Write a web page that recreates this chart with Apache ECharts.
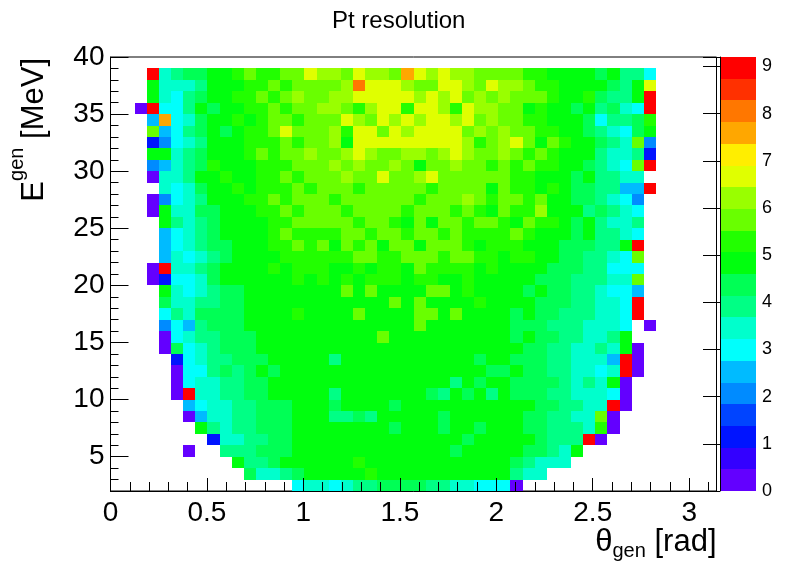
<!DOCTYPE html>
<html lang="en">
<head>
<meta charset="UTF-8">
<title>Pt resolution</title>
<style>html,body{margin:0;padding:0;background:#fff;}</style>
</head>
<body>
<div id="container" style="width:796px;height:572px;"></div>
<script src="https://cdn.jsdelivr.net/npm/echarts@6/dist/echarts.min.js"></script>
<script>
// TH2 binning: 50 bins in theta over [0, pi], 38 bins of 1 MeV over [2, 40]
var nBinsX = 50;
var thetaMax = Math.PI;
var eMin = 2, eMax = 40;
var zMax = 9.2;
var nContours = 20;

// one string per E bin, top first (38-39 down to 2-3), one char per theta bin
// '.' = empty, '0'-'9','a'-'j' = colour band 0..19
var rows = [
    '...j7899aa' + 'bcbbcceddc' + 'eddcgededd' + 'ccccbbaaaa' + '9a886.....',
    '...a7778aa' + 'abbcbccccd' + 'heeedcceed' + 'ceddcbbaaa' + 'a98ae.....',
    '...a7689aa' + 'bbcbcdccdd' + 'eeeeededec' + 'dcdcccbaab' + '988aj.....',
    '..0j668a9a' + 'abbcbccddc' + 'bdeebeedbe' + 'ddccabaa9a' + '8976j.....',
    '...5g679aa' + 'babccbccce' + 'dcededeede' + 'cdccbbaaa9' + '6889b.....',
    '...c5689a9' + 'abbcecccdb' + 'eecedeeeec' + 'dcdccbbaa9' + '8769a.....',
    '...24678aa' + 'abbbcbccda' + 'eeeeeeeeed' + 'bcdecacbaa' + '987c4.....',
    '...aa789aa' + 'abcbccdccd' + 'edccddcded' + 'ccdcbcbaaa' + '87782.....',
    '...45789ba' + 'aabbbcccdc' + 'dccdcaccdc' + 'cbcbcbbaa9' + '876cj.....',
    '...0778aab' + 'aabbcbcccd' + 'cceccdeccc' + 'cccbbaaa9a' + '8877......',
    '....7679aa' + 'babbbcbccc' + 'bcccccbccc' + 'cacbbaba99' + '8855j.....',
    '...04678aa' + 'abbcbcccbc' + 'cccccbcccd' + 'cbccbcaa99' + '8764......',
    '...0a7799a' + 'aabbcbcccb' + 'ccccbcccbc' + 'bacbbdaaa8' + '9876......',
    '....a8789a' + 'aaabbccccc' + 'bccbacaccb' + 'ccbacbba9a' + '8778......',
    '....56789a' + 'aaabcbbbbc' + 'cbccbccbcb' + 'bbbcbaaa9a' + '8876......',
    '....567899' + 'aaabbcbcac' + 'bcaccacccb' + 'abbbaaa999' + '88aj......',
    '....576789' + 'aaaabbbbbb' + 'ccbbcccbcc' + 'bbabbaa998' + '876c......',
    '...0j7789a' + 'aaababbbaa' + 'babbacbbbb' + 'abaaaa9998' + '8666......',
    '...026679a' + 'aaaaababab' + 'abbbabbaab' + 'aaaaa99988' + '877c......',
    '....a76789' + '9aaaaaaaac' + 'acaaaaccab' + 'aaaa9a9988' + '7665......',
    '....977889' + '9aaaaaaaaa' + 'aaacacaaaa' + 'baaaa99988' + '776j......',
    '....687999' + '9aaaabaaaa' + 'caaaaccaca' + 'aaa9a99888' + '776j......',
    '....465899' + '9aaaaaaaaa' + 'aaaaacaaaa' + 'aaa9998887' + '776.0.....',
    '....067889' + '99aaaaaaaa' + 'aacaaaaaaa' + 'aaa9a99887' + '78a.......',
    '....096789' + '99aaaaaaaa' + 'aaaaaaaaaa' + 'aaaa998877' + '87a0......',
    '.....26788' + '999aaaaa8a' + 'aaaaaaaaaa' + '9aa9998877' + '75j0......',
    '.....06689' + '89a9aaaaaa' + 'aaaaaaaaaa' + 'a99a998877' + '67j0......',
    '.....06778' + '899aaaaaaa' + 'aaaaaaaa8a' + '9aa9999878' + '7a0.......',
    '.....0j778' + '899aaaaa8a' + 'aaaaaa98a9' + 'a8a9998877' + '760.......',
    '......5677' + '88999aaa9a' + 'aaa9aaaaaa' + 'aaaaa99887' + '7j0.......',
    '......0577' + '88999aaa88' + '98aaaaa9aa' + 'aaaa998877' + 'c0........',
    '.......a87' + '88999aaaaa' + 'aaa9aaa9aa' + '9aaa998887' + 'b0........',
    '........27' + '78899aaaaa' + 'aaaaaaaaa9' + 'aaaaa9888j' + '0.........',
    '......0..8' + '88999aaaaa' + 'aaaaaaaa9a' + 'aaaa9987a.' + '..........',
    '..........' + 'a889aaaaaa' + 'baaaaaaaaa' + 'aaa98777..' + '..........',
    '..........' + '.97789aaaa' + 'abaaaaaaaa' + 'aaa877....' + '..........',
    '..........' + '.....67767' + '8899998877' + '6660......' + '..........'
];

// ROOT "pretty" palette, as picked for 20 contours
var palette = [
    '#6300ff', '#3300ff', '#0014ff', '#0044ff', '#008bff',
    '#00bbff', '#00fffc', '#00ffcc', '#00ff85', '#00ff55',
    '#00ff0e', '#22ff00', '#69ff00', '#99ff00', '#e0ff00',
    '#ffee00', '#ffa700', '#ff7700', '#ff3000', '#ff0000'
];

var xStep = thetaMax / nBinsX;
var zStep = zMax / nContours;
var font = 'Liberation Sans';

var cells = [];
rows.forEach(function (row, r) {
    var eLow = eMax - 2 - r;
    for (var i = 0; i < nBinsX; i++) {
        var ch = row.charAt(i);
        if (!ch || ch === '.') continue;
        var lvl = parseInt(ch, 20);
        cells.push([i * xStep, eLow, (lvl + 0.5) * zStep]);
    }
});

var bands = palette.map(function (c, k) {
    return [k, k * zStep, (k + 1) * zStep];
});

var pieces = palette.map(function (c, k) {
    return { gte: k * zStep, lt: (k + 1) * zStep, color: c };
});
pieces[pieces.length - 1].lte = zMax + 1;

// text metrics for the axis titles with sub/superscripts
var ctx = document.createElement('canvas').getContext('2d');
function textWidth(s, size) {
    ctx.font = size + 'px "' + font + '"';
    return ctx.measureText(s).width;
}
function midToBase(size) {
    ctx.font = size + 'px "' + font + '"';
    ctx.textBaseline = 'alphabetic';
    var a = ctx.measureText('E').actualBoundingBoxAscent;
    ctx.textBaseline = 'middle';
    var m = ctx.measureText('E').actualBoundingBoxAscent;
    ctx.textBaseline = 'alphabetic';
    return a - m;
}
function txt(s, x, y, size) {
    return { type: 'text', x: x, y: y, style: { text: s, fontSize: size, fontFamily: font, fill: '#000', align: 'left', verticalAlign: 'middle' } };
}

var bigT = 31, smallT = 20;
// x title: theta_gen [rad], right aligned to axis end
var xw1 = textWidth('\u03b8', bigT), xw2 = textWidth('gen', smallT), xw3 = textWidth(' [rad]', bigT);
var xBase = 550.5;
var xStart = 716.5 - (xw1 + xw2 + xw3);
var xTitle = [
    txt('\u03b8', xStart, xBase - midToBase(bigT), bigT),
    txt('gen', xStart + xw1, xBase + 6 - midToBase(smallT), smallT),
    txt(' [rad]', xStart + xw1 + xw2, xBase - midToBase(bigT), bigT)
];
// y title: E^gen [MeV], rotated, ending at the top of the frame
var yw1 = textWidth('E', bigT), yw2 = textWidth('gen', smallT), yw3 = textWidth(' [MeV]', bigT);
var yTitle = {
    type: 'group', x: 43.3, y: 58 + yw1 + yw2 + yw3, rotation: Math.PI / 2,
    children: [
        txt('E', 0, -midToBase(bigT), bigT),
        txt('gen', yw1, -20 - midToBase(smallT), smallT),
        txt(' [MeV]', yw1 + yw2, -midToBase(bigT), bigT)
    ]
};

var black = { color: '#000', width: 1 };

var option = {
    animation: false,
    textStyle: { fontFamily: font },
    grid: [
        { left: 110.5, top: 57, width: 606, height: 434, show: true, borderColor: '#000', borderWidth: 1, backgroundColor: 'transparent' },
        { left: 720, top: 57, width: 36, height: 434 }
    ],
    xAxis: [
        {
            gridIndex: 0, type: 'value', min: 0, max: thetaMax, interval: 0.5, position: 'bottom', z: 5,
            axisLine: { lineStyle: black },
            axisTick: { inside: true, length: 13, lineStyle: black },
            axisLabel: {
                fontSize: 28, color: '#000', margin: 8,
                formatter: function (v) { return Math.abs(v * 2 - Math.round(v * 2)) < 1e-6 ? String(v) : ''; }
            },
            splitLine: { show: false }
        },
        {
            gridIndex: 0, type: 'value', min: 0, max: thetaMax, interval: 0.1, position: 'bottom', z: 5,
            axisLine: { show: false },
            axisTick: { inside: true, length: 9, lineStyle: black },
            axisLabel: { show: false },
            splitLine: { show: false }
        },
        { gridIndex: 1, type: 'value', min: 0, max: 1, show: false }
    ],
    yAxis: [
        {
            gridIndex: 0, type: 'value', min: eMin, max: eMax, minInterval: 5, maxInterval: 5, splitNumber: 8,
            position: 'left', z: 5,
            axisLine: { lineStyle: black },
            axisTick: { inside: true, length: 18, lineStyle: black },
            axisLabel: {
                fontSize: 28, color: '#000', margin: 6,
                formatter: function (v) { return v % 5 === 0 ? String(v) : ''; }
            },
            splitLine: { show: false }
        },
        {
            gridIndex: 0, type: 'value', min: eMin, max: eMax, interval: 1, position: 'left', z: 5,
            axisLine: { show: false },
            axisTick: { inside: true, length: 8, lineStyle: black },
            axisLabel: { show: false },
            splitLine: { show: false }
        },
        {
            gridIndex: 1, type: 'value', min: 0, max: zMax, interval: 1, position: 'right', z: 5,
            axisLine: { lineStyle: black },
            axisTick: { inside: true, length: 17, lineStyle: black },
            axisLabel: {
                fontSize: 18, color: '#000', margin: 6,
                formatter: function (v) { return Math.abs(v - Math.round(v)) < 1e-6 ? String(Math.round(v)) : ''; }
            },
            splitLine: { show: false }
        }
    ],
    visualMap: {
        type: 'piecewise', show: false, seriesIndex: 0, dimension: 2, pieces: pieces
    },
    series: [
        {
            type: 'custom', xAxisIndex: 0, yAxisIndex: 0, z: 1,
            data: cells,
            encode: { x: 0, y: 1 },
            renderItem: function (params, api) {
                var x0 = api.value(0), y0 = api.value(1);
                var a = api.coord([x0, y0 + 1]);
                var b = api.coord([x0 + xStep, y0]);
                var l = Math.round(a[0]), t = Math.round(a[1]);
                return {
                    type: 'rect',
                    shape: { x: l, y: t, width: Math.round(b[0]) - l, height: Math.round(b[1]) - t },
                    style: { fill: api.visual('color') }
                };
            }
        },
        {
            type: 'custom', xAxisIndex: 2, yAxisIndex: 2, z: 1,
            data: bands,
            renderItem: function (params, api) {
                var a = api.coord([0, api.value(2)]);
                var b = api.coord([1, api.value(1)]);
                var t = Math.round(a[1]);
                return {
                    type: 'rect',
                    shape: { x: a[0], y: t, width: b[0] - a[0], height: Math.round(b[1]) - t },
                    style: { fill: palette[api.value(0)] }
                };
            }
        }
    ],
    graphic: [
        {
            type: 'text', x: 398.7, y: 28.3 - midToBase(24),
            style: { text: 'Pt resolution', fontSize: 24, fontFamily: font, fill: '#000', align: 'center', verticalAlign: 'middle' }
        },
        yTitle
    ].concat(xTitle)
};

var myChart = echarts.init(document.getElementById('container'));
myChart.setOption(option);
</script>
</body>
</html>
